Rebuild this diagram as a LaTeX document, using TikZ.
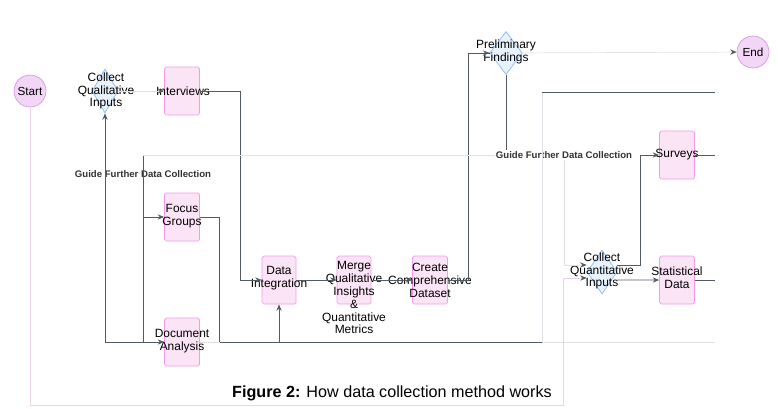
\documentclass[tikz,border=0pt]{standalone}
\usepackage{fontspec}
\setmainfont{Liberation Sans}
\usetikzlibrary{shapes,arrows,arrows.meta,positioning}

\definecolor{boxpink}{HTML}{FBE4F6}
\definecolor{boxedge}{HTML}{F39BE8}
\definecolor{termfill}{HTML}{F2D6F6}
\definecolor{termedge}{HTML}{DA96E6}
\definecolor{dfill}{HTML}{E8F2FD}
\definecolor{dedge}{HTML}{86BDF4}
\definecolor{wire}{HTML}{525A66}
\definecolor{pale}{HTML}{E2DEE6}
\definecolor{palepink}{HTML}{E9D3E7}

\begin{document}
\begin{tikzpicture}[x=0.03cm,y=-0.03cm]
            \tikzstyle{B}=[rectangle,draw=boxedge,fill=boxpink,rounded corners=1.5pt,minimum width=1.05cm,minimum height=1.44cm,inner sep=0pt,line width=0.6pt]  % step box
            \tikzstyle{D}=[diamond,draw=dedge,fill=dfill,inner sep=0pt,line width=0.6pt]   % decision
            \tikzstyle{T}=[circle,draw=termedge,fill=termfill,minimum size=0.96cm,inner sep=0pt,font=\fontsize{10}{11}\selectfont,line width=0.6pt]  % start / end
            \tikzstyle{txt}=[align=center,font=\fontsize{10.2}{11}\selectfont,inner sep=0pt]
            \tikzstyle{lbl}=[font=\fontsize{8.2}{9}\selectfont\bfseries,inner sep=1pt,text=black!80]

            \tikzstyle{W}=[draw=wire,line width=0.7pt]
            \tikzstyle{F}=[W,-{Stealth[length=5.5pt,width=4.5pt]}]
            \tikzstyle{P}=[draw=pale,line width=0.6pt]   % faint connector
            \tikzstyle{PF}=[P,-{Stealth[length=5.5pt,width=4.5pt,color=wire]}]
            \tikzstyle{S}=[draw=palepink,line width=0.6pt,-{Stealth[length=5.5pt,width=4.5pt,color=wire]}]

            \useasboundingbox (0,0) rectangle (778,408);

            \node[T] (0) at (30,91) {Start};
            \node[D,shape aspect=0.59,minimum width=0.78cm,minimum height=1.32cm] (1) at (105,91) {};
            \node[txt] (1t) at (106,91) {Collect\\Qualitative\\Inputs};
            \node[B] (2) at (182,91) {};
            \node[txt] (2t) at (183,91) {Interviews};
            \node[B] (3) at (182,217) {};
            \node[txt] (3t) at (182,216) {Focus\\Groups};
            \node[B] (4) at (182,342) {};
            \node[txt] (4t) at (182,341) {Document\\Analysis};
            \node[B,minimum width=1.02cm] (5) at (279,280) {};
            \node[txt] (5t) at (279,278) {Data\\Integration};
            \node[B,minimum width=1.02cm] (6) at (354,280) {};
            \node[txt,anchor=north] (6t) at (354,261) {Merge\\Qualitative\\Insights\\\&\\Quantitative\\Metrics};
            \node[B,minimum width=1.05cm] (7) at (430,280) {};
            \node[txt] (7t) at (430,280) {Create\\Comprehensive\\Dataset};
            \node[D,shape aspect=0.76,minimum width=0.98cm,minimum height=1.29cm] (8) at (506,53) {};
            \node[txt] (8t) at (506,52) {Preliminary\\Findings};
            \node[T] (9) at (753,52) {End};
            \node[B] (10) at (677,155) {};
            \node[txt] (10t) at (677,155) {Surveys};
            \node[D,shape aspect=0.68,minimum width=0.9cm,minimum height=1.32cm] (11) at (602,272) {};
            \node[txt] (11t) at (602,271) {Collect\\Quantitative\\Inputs};
            \node[B] (12) at (677,280) {};
            \node[txt] (12t) at (677,278) {Statistical\\Data};

            \node[lbl] (g1t) at (143,174) {Guide Further Data Collection};
            \node[lbl] (g2t) at (564,155) {Guide Further Data Collection};

            \coordinate (g1) at (143,155);
            \coordinate (j1) at (143,342);
            \coordinate (b0) at (542,92);
            \coordinate (b1) at (542,342);
            \coordinate (cb) at (563,405);
            \coordinate (r1) at (715,92);
            \coordinate (r2) at (715,155);
            \coordinate (r3) at (715,280);
            \coordinate (r4) at (715,342);

            % qualitative side
            \draw[PF] (1) -- (2);
            \draw[W] (g1) -- (j1);
            \draw[F] (g1) |- (3);
            \draw[F] (j1) -- (4);
            \draw[F] (j1) -| (1);
            \draw[F] (2.east) -- ++(41,0) |- (5);
            \draw[W] (3.east) -- ++(20,0) |- (b1);
            \draw[P] (4.east) -- ++(20,0);
            \draw[F] (5 |- b1) -- (5);

            % merge and findings
            \draw[F] (5) -- (6);
            \draw[F] (6) -- (7);
            \draw[F] (7.east) -- ++(21,0) |- (8);
            \draw[PF] (8) -- (9);
            \draw[W] (8) -- (8 |- g2t.north);
            \draw[P] (g2t.west) -- (g1);

            % right frame
            \draw[P] (b1) -- (b0);
            \draw[W] (b0) -- (r1);
            \draw[P] (b1) -- (r4);
            \draw[W] (10) -- (r2);
            \draw[W] (12) -- (r3);

            % quantitative side
            \draw[PF] (g2t.south) |- ([yshift=0.21cm]11.west);
            \draw[F] ([yshift=0.21cm]11.east) -- ++(23,0) |- (10);
            \draw[S] (0) |- (cb) |- ([yshift=-0.18cm]11.west);
            \draw[F] ([yshift=-0.24cm]11.east) -- (12);

            \node[font=\fontsize{13.8}{15}\selectfont] (cap) at (392,393) {\textbf{Figure 2:} How data collection method works};
\end{tikzpicture}
\end{document}
